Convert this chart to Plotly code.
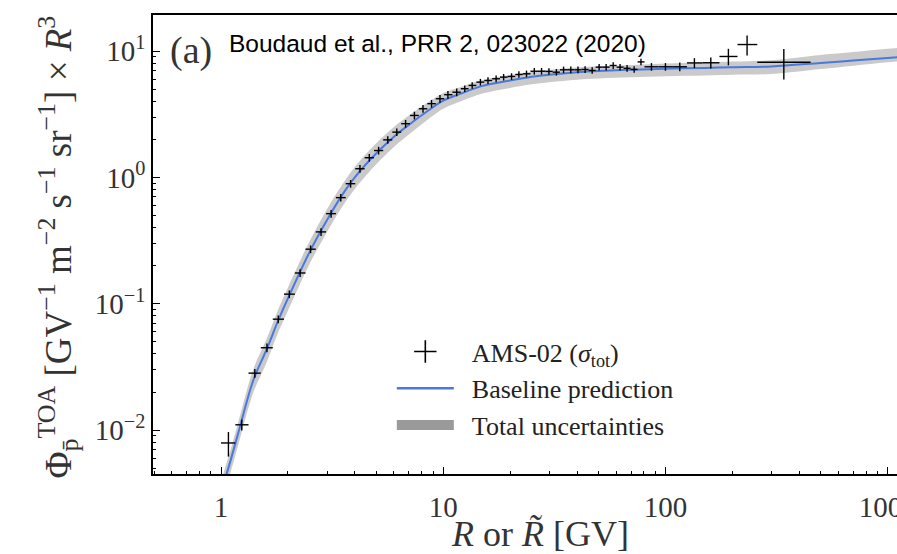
import plotly.graph_objects as go

# ---------------- data ----------------
ams_R = [1.08, 1.24, 1.42, 1.61, 1.81, 2.03, 2.27, 2.53, 2.82, 3.13, 3.46, 3.83, 4.22,
         4.65, 5.12, 5.63, 6.18, 6.77, 7.42, 8.11, 8.86, 9.67, 10.5, 11.5, 12.5, 13.5,
         14.7, 15.9, 17.3, 18.7, 20.3, 21.9, 23.7, 25.7, 27.7, 29.9, 32.3, 34.8, 37.5,
         40.4, 43.5, 46.8, 50.3, 54.1, 58.2, 62.5, 67.2, 72.3, 77.6, 86.5, 100, 116,
         135, 160, 192, 233, 341]
ams_edges = [1.00, 1.16, 1.33, 1.51, 1.71, 1.92, 2.15, 2.40, 2.67, 2.97, 3.29, 3.64,
             4.02, 4.43, 4.88, 5.37, 5.90, 6.47, 7.09, 7.76, 8.48, 9.26, 10.1, 11.0,
             12.0, 13.0, 14.1, 15.3, 16.6, 18.0, 19.5, 21.1, 22.8, 24.7, 26.7, 28.8,
             31.1, 33.5, 36.1, 38.9, 41.9, 45.1, 48.5, 52.2, 56.1, 60.3, 64.8, 69.7,
             74.9, 80.5, 93.0, 108, 125, 147, 175, 211, 259, 450]
ams_flux = [0.0079, 0.0110, 0.0282, 0.0448, 0.0754, 0.119, 0.175, 0.270, 0.370, 0.516,
            0.691, 0.891, 1.17, 1.43, 1.63, 1.98, 2.28, 2.66, 3.09, 3.49, 3.83, 4.19,
            4.51, 4.72, 5.03, 5.34, 5.67, 5.84, 6.03, 6.21, 6.29, 6.52, 6.60, 6.92,
            6.92, 6.89, 6.80, 7.10, 7.10, 7.10, 7.14, 7.02, 7.45, 7.45, 7.68, 7.45,
            7.30, 7.15, 8.20, 7.50, 7.50, 7.50, 8.05, 8.07, 9.05, 11.25, 8.15]
ams_relerr = [0.22, 0.10, 0.08, 0.08, 0.07, 0.07, 0.07, 0.07, 0.07, 0.07, 0.07, 0.07,
              0.07, 0.07, 0.07, 0.07, 0.07, 0.07, 0.07, 0.07, 0.07, 0.07, 0.07, 0.07,
              0.06, 0.06, 0.06, 0.06, 0.06, 0.06, 0.06, 0.06, 0.06, 0.06, 0.06, 0.06,
              0.06, 0.06, 0.06, 0.06, 0.06, 0.06, 0.06, 0.06, 0.06, 0.06, 0.06, 0.06,
              0.06, 0.07, 0.07, 0.08, 0.09, 0.10, 0.15, 0.18, 0.27]

model_R = [1.0, 1.06, 1.1, 1.2, 1.4, 1.6, 1.8, 2.0, 2.5, 3.0, 3.5, 4.0, 5.0, 6.0, 7.0,
           8.0, 10, 12, 15, 20, 25, 30, 40, 50, 70, 100, 150, 200, 300, 500, 700,
           1000, 1300]
model_base = [0.0032, 0.0045, 0.0056, 0.0097, 0.025, 0.043, 0.072, 0.11, 0.255, 0.46,
              0.72, 1.0, 1.55, 2.1, 2.6, 3.1, 4.05, 4.6, 5.3, 5.85, 6.25, 6.5, 6.8,
              6.95, 7.1, 7.25, 7.35, 7.45, 7.55, 8.05, 8.4, 8.8, 9.1]
model_lo = [0.0026, 0.0036, 0.0045, 0.0078, 0.020, 0.034, 0.058, 0.088, 0.205, 0.37,
            0.58, 0.81, 1.27, 1.74, 2.18, 2.63, 3.49, 4.00, 4.61, 5.10, 5.45, 5.67,
            5.93, 6.06, 6.19, 6.32, 6.40, 6.48, 6.58, 7.20, 7.65, 8.15, 8.45]
model_hi = [0.0039, 0.0055, 0.0068, 0.0118, 0.0305, 0.052, 0.088, 0.134, 0.31, 0.56,
            0.87, 1.21, 1.86, 2.50, 3.08, 3.63, 4.65, 5.20, 5.90, 6.45, 6.85, 7.10,
            7.40, 7.56, 7.75, 7.95, 8.10, 8.25, 8.45, 9.30, 9.80, 10.4, 10.8]

y_tickvals = [0.01, 0.1, 1, 10]
y_ticktext = ["10<sup>−2</sup>", "10<sup>−1</sup>", "10<sup>0</sup>", "10<sup>1</sup>"]
x_tickvals = [1, 10, 100, 1000]
x_ticktext = ["1", "10", "100", "1000"]

SERIF = "Liberation Serif"
BLUE = "#4a78dc"

fig = go.Figure()

fig.add_trace(go.Scatter(x=model_R, y=model_lo, mode="lines",
                         line=dict(width=0, color="rgba(150,150,150,0)", shape="spline",
                                   smoothing=1),
                         showlegend=False, hoverinfo="skip"))
fig.add_trace(go.Scatter(x=model_R, y=model_hi, mode="lines",
                         line=dict(width=0, color="rgba(150,150,150,0)", shape="spline",
                                   smoothing=1),
                         fill="tonexty", fillcolor="rgba(150,150,150,0.5)",
                         showlegend=False, hoverinfo="skip"))
fig.add_trace(go.Scatter(x=model_R, y=model_base, mode="lines",
                         line=dict(color=BLUE, width=2, shape="spline", smoothing=1),
                         showlegend=False))

err_plus_x = [ams_edges[i + 1] - r for i, r in enumerate(ams_R)]
err_minus_x = [r - ams_edges[i] for i, r in enumerate(ams_R)]
err_y = [f * e for f, e in zip(ams_flux, ams_relerr)]
fig.add_trace(go.Scatter(
    x=ams_R, y=ams_flux, mode="markers", marker=dict(size=1, color="black"),
    error_x=dict(type="data", array=err_plus_x, arrayminus=err_minus_x,
                 color="black", thickness=1.4, width=0),
    error_y=dict(type="data", array=err_y, color="black", thickness=1.4, width=0),
    showlegend=False))

fig.add_trace(go.Scatter(x=[None], y=[None], mode="markers",
                         marker=dict(symbol="cross-thin-open", size=30, color="black",
                                     line=dict(color="black", width=1.6)),
                         name="&nbsp;&nbsp;AMS-02 (<i>σ</i><sub>tot</sub>)"))
fig.add_trace(go.Scatter(x=[None], y=[None], mode="lines",
                         line=dict(color=BLUE, width=2.5),
                         name="&nbsp;&nbsp;Baseline prediction"))
fig.add_trace(go.Scatter(x=[None], y=[None], mode="lines",
                         line=dict(width=17, color="#9a9a9a"),
                         name="&nbsp;&nbsp;Total uncertainties"))

fig.add_annotation(x=0.02, y=0.973, xref="paper", yref="paper", xanchor="left",
                   yanchor="top", text="(a)", showarrow=False,
                   font=dict(family=SERIF, size=38, color="#333"))
fig.add_annotation(x=0.1, y=0.971, xref="paper", yref="paper", xanchor="left",
                   yanchor="top", text="Boudaud et al., PRR 2, 023022 (2020)",
                   showarrow=False,
                   font=dict(family="Liberation Sans, Arial", size=24.5, color="black"))

fig.add_annotation(x=0.52, y=-0.13, xref="paper", yref="paper", xanchor="center",
                   yanchor="middle", text="<i>R</i> or <i>R̃</i> [GV]", showarrow=False,
                   font=dict(family=SERIF, size=36, color="#333"))
fig.add_annotation(x=-0.128, y=0.495, xref="paper", yref="paper", xanchor="center",
                   yanchor="middle", textangle=-90, showarrow=False,
                   text="Φ<sub>p̄</sub><sup>TOA</sup> [GV<sup>−1</sup> m<sup>−2</sup> "
                        "s<sup>−1</sup> sr<sup>−1</sup>] × <i>R</i><sup>3</sup>",
                   font=dict(family=SERIF, size=37, color="#333"))

axis_common = dict(type="log", showgrid=False, zeroline=False, showline=True,
                   linecolor="black", linewidth=1.5, ticks="inside", ticklen=7,
                   tickwidth=1.2, tickcolor="black", automargin=False,
                   ticklabeloverflow="allow",
                   tickfont=dict(family=SERIF, size=29, color="#333"),
                   minor=dict(ticks="inside", ticklen=3.5, tickwidth=1,
                              tickcolor="black", dtick="D1", showgrid=False))

fig.update_xaxes(**axis_common, range=[-0.306, 3.042], mirror=True,
                 tickvals=x_tickvals, ticktext=x_ticktext, ticklabelstandoff=6)
fig.update_yaxes(**axis_common, range=[-2.348, 1.285], mirror=False,
                 tickvals=y_tickvals, ticktext=y_ticktext)

fig.update_layout(
    width=897, height=554,
    margin=dict(l=153, r=0, t=15, b=80),
    paper_bgcolor="white", plot_bgcolor="white",
    showlegend=True,
    legend=dict(x=0.321, y=0.318, xanchor="left", yanchor="top",
                traceorder="normal", itemwidth=57,
                bgcolor="rgba(0,0,0,0)", borderwidth=0,
                font=dict(family=SERIF, size=26, color="#222")),
)

fig.write_html("out.html")
